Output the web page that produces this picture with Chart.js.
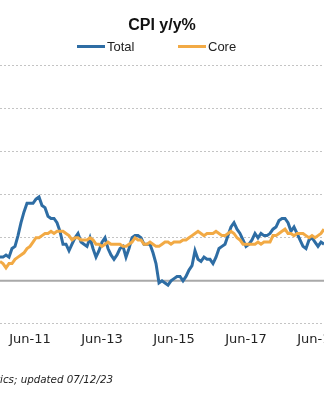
<!DOCTYPE html>
<html>
<head>
<meta charset="utf-8">
<script src="https://cdn.jsdelivr.net/npm/chart.js@4.4.0/dist/chart.umd.min.js"></script>
<style>
  html, body { margin: 0; padding: 0; background: #fff; overflow: hidden; }
  #wrap { position: relative; width: 324px; height: 400px; overflow: hidden; }
  #legend { position: absolute; top: 39px; left: 0; width: 324px; height: 16px; font: 13px 'Liberation Sans', Arial, sans-serif; color: #222; }
  #legend .item { position: absolute; top: 0; line-height: 16px; white-space: nowrap; }
  #legend .swatch { display: inline-block; width: 28px; height: 3px; vertical-align: middle; margin-right: 2px; position: relative; top: -1px; }
  #note { position: absolute; right: 211px; top: 373px; line-height: 14px; font: italic 10.3px 'DejaVu Sans', Verdana, sans-serif; color: #222; white-space: nowrap; }
</style>
</head>
<body>
<div id="wrap">
  <canvas id="chart" width="324" height="400"></canvas>
  <div id="legend">
    <span class="item" style="left:77px"><span class="swatch" style="background:#2e6da4"></span>Total</span>
    <span class="item" style="left:178px"><span class="swatch" style="background:#f2aa45"></span>Core</span>
  </div>
  <div id="note">Source: Bureau of Labor Statistics; updated 07/12/23</div>
</div>
<script>
// visible window: Aug-10 .. Aug-19, monthly
const startYear = 2010;
const startMonth = 7; // Aug (0-based)
const monthNames = ['Jan', 'Feb', 'Mar', 'Apr', 'May', 'Jun', 'Jul', 'Aug', 'Sep', 'Oct', 'Nov', 'Dec'];

const tickLabels = ['Jun-11', 'Jun-13', 'Jun-15', 'Jun-17', 'Jun-19'];

const totalCpi = [
  1.1, 1.1, 1.2, 1.1, 1.5,
  1.6, 2.1, 2.7, 3.2, 3.6, 3.6, 3.6, 3.8, 3.9, 3.5, 3.4, 3.0,
  2.9, 2.9, 2.7, 2.3, 1.7, 1.7, 1.4, 1.7, 2.0, 2.2, 1.8, 1.7,
  1.6, 2.0, 1.5, 1.1, 1.4, 1.8, 2.0, 1.5, 1.2, 1.0, 1.2, 1.5,
  1.6, 1.1, 1.5, 2.0, 2.1, 2.1, 2.0, 1.7, 1.7, 1.7, 1.3, 0.8,
  -0.1, 0.0, -0.1, -0.2, 0.0, 0.1, 0.2, 0.2, 0.0, 0.2, 0.5, 0.7,
  1.4, 1.0, 0.9, 1.1, 1.0, 1.0, 0.8, 1.1, 1.5, 1.6, 1.7, 2.1,
  2.5, 2.7, 2.4, 2.2, 1.9, 1.6, 1.7, 1.9, 2.2, 2.0, 2.2, 2.1,
  2.1, 2.2, 2.4, 2.5, 2.8, 2.9, 2.9, 2.7, 2.3, 2.5, 2.2, 1.9,
  1.6, 1.5, 1.9, 2.0, 1.8, 1.6, 1.8, 1.7
];

const coreCpi = [
  0.9, 0.8, 0.6, 0.8, 0.8,
  1.0, 1.1, 1.2, 1.3, 1.5, 1.6, 1.8, 2.0, 2.0, 2.1, 2.2, 2.2,
  2.3, 2.2, 2.3, 2.3, 2.3, 2.2, 2.1, 1.9, 2.0, 2.0, 1.9, 1.9,
  1.9, 2.0, 1.9, 1.7, 1.7, 1.6, 1.7, 1.8, 1.7, 1.7, 1.7, 1.7,
  1.6, 1.6, 1.7, 1.8, 2.0, 1.9, 1.9, 1.7, 1.7, 1.8, 1.7, 1.6,
  1.6, 1.7, 1.8, 1.8, 1.7, 1.8, 1.8, 1.8, 1.9, 1.9, 2.0, 2.1,
  2.2, 2.3, 2.2, 2.1, 2.2, 2.2, 2.2, 2.3, 2.2, 2.1, 2.1, 2.2,
  2.3, 2.2, 2.0, 1.9, 1.7, 1.7, 1.7, 1.7, 1.7, 1.8, 1.7, 1.8,
  1.8, 1.8, 2.1, 2.1, 2.2, 2.3, 2.4, 2.2, 2.2, 2.1, 2.2, 2.2,
  2.2, 2.1, 2.0, 2.1, 2.0, 2.1, 2.2, 2.4
];

const labels = totalCpi.map((_, i) => {
  const m = startMonth + i;
  const y = startYear + Math.floor(m / 12);
  return monthNames[m % 12] + '-' + String(y).slice(2);
});

// solid grey line at 0%
const zeroLine = {
  id: 'zeroLine',
  beforeDatasetsDraw(chart) {
    const { ctx, chartArea, scales } = chart;
    const py = scales.y.getPixelForValue(0);
    ctx.save();
    ctx.strokeStyle = '#a9a9a9';
    ctx.lineWidth = 2;
    ctx.beginPath();
    ctx.moveTo(chartArea.left, py);
    ctx.lineTo(chartArea.right, py);
    ctx.stroke();
    ctx.restore();
  }
};

new Chart(document.getElementById('chart'), {
  type: 'line',
  data: {
    labels,
    datasets: [
      {
        label: 'Total',
        data: totalCpi,
        borderColor: '#2e6da4',
        backgroundColor: '#2e6da4',
        borderWidth: 3,
        order: 1,
      },
      {
        label: 'Core',
        data: coreCpi,
        borderColor: '#f2aa45',
        backgroundColor: '#f2aa45',
        borderWidth: 3,
        order: 0,
      },
    ],
  },
  options: {
    responsive: false,
    animation: false,
    layout: { padding: { left: 0, right: 0, top: 0, bottom: 53 } },
    elements: { point: { radius: 0 }, line: { tension: 0 } },
    plugins: {
      legend: { display: false },
      tooltip: { enabled: false },
      title: {
        display: true,
        text: 'CPI y/y%',
        color: '#111',
        font: { family: "'Liberation Sans', Arial, sans-serif", size: 16, weight: 'bold' },
        padding: { top: 16.4, bottom: 30.1 },
      },
    },
    scales: {
      x: {
        // ticks.padding also pads the chart sides, so push labels down with tickLength instead
        grid: { display: false, drawTicks: true, tickLength: 7.6 },
        border: { display: false },
        ticks: {
          autoSkip: false,
          maxRotation: 0,
          minRotation: 0,
          padding: 0,
          color: '#222',
          font: { family: "'DejaVu Sans', Verdana, sans-serif", size: 13 },
          callback(value) {
            const l = this.getLabelForValue(value);
            return tickLabels.includes(l) ? l : '';
          },
        },
      },
      y: {
        min: -2,
        max: 10,
        ticks: { stepSize: 2, display: false },
        grid: { color: '#c4c4c4', lineWidth: 1, drawTicks: false },
        border: { display: false, dash: [2, 2] },
      },
    },
  },
  plugins: [zeroLine],
});
</script>
</body>
</html>
